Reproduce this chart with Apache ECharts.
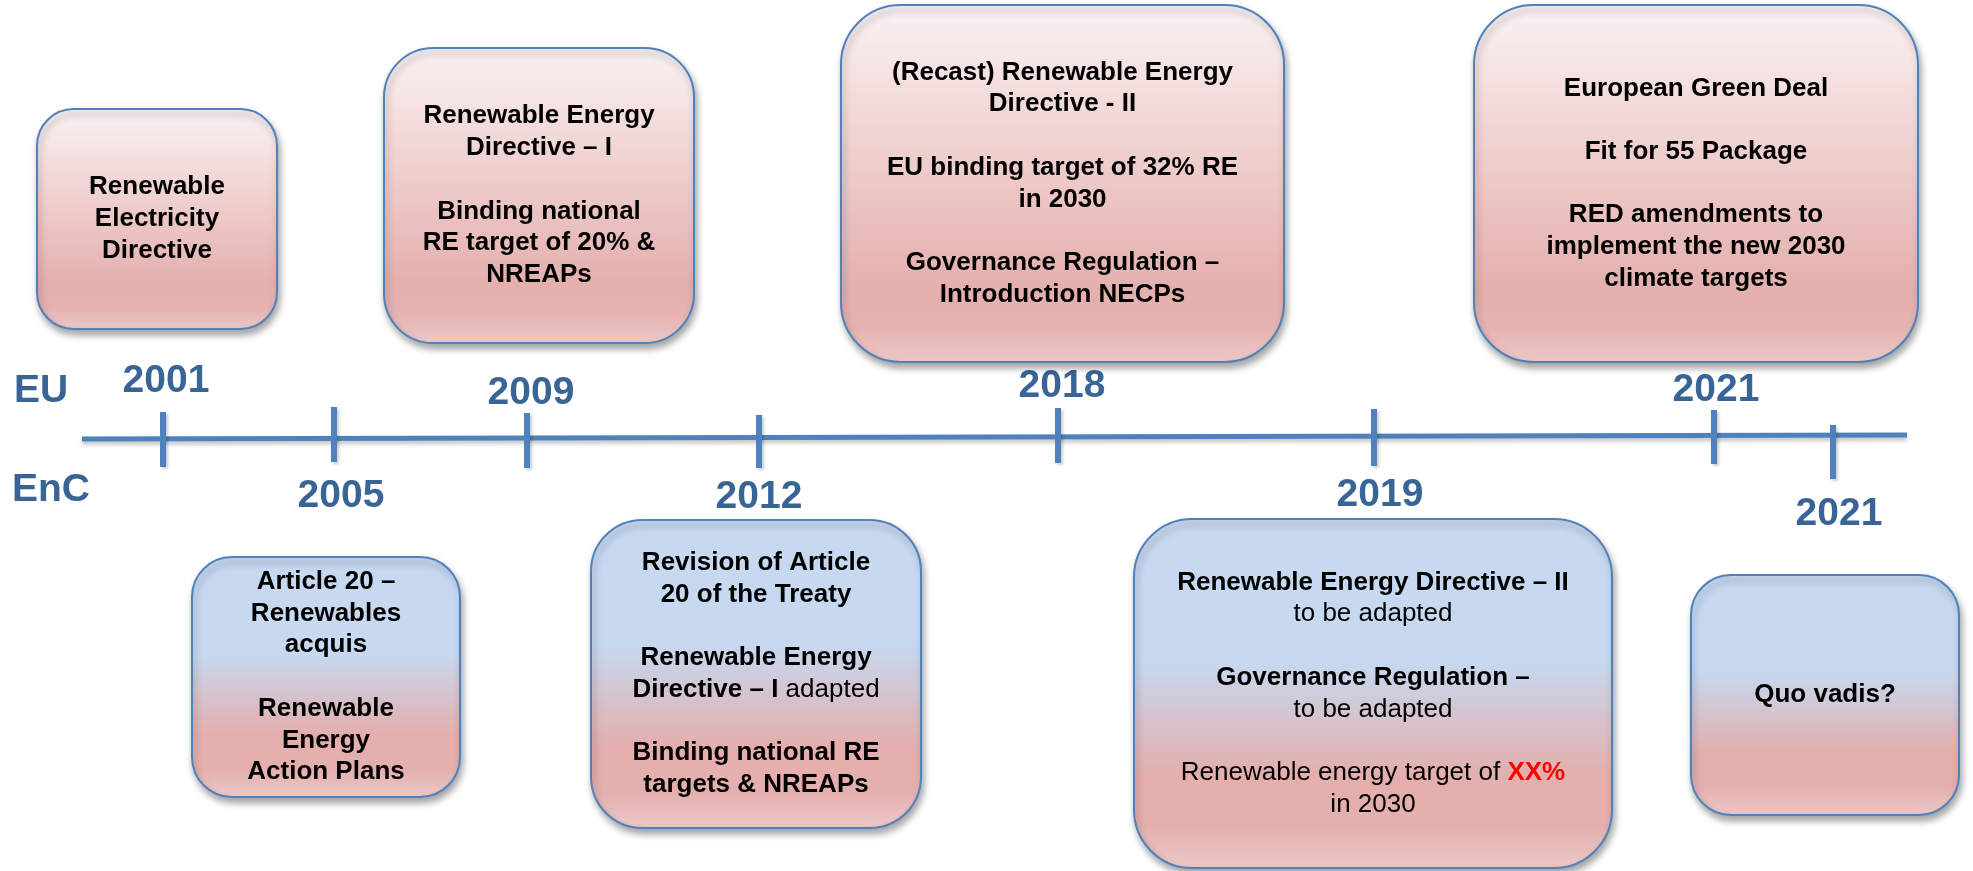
<!DOCTYPE html>
<html>
<head>
<meta charset="utf-8">
<script src="https://cdn.jsdelivr.net/npm/echarts/dist/echarts.min.js"></script>
<style>
  html, body { margin: 0; padding: 0; background: #fff; }
  #main { width: 1973px; height: 871px; }
</style>
</head>
<body>
<div id="main"></div>
<script>
// timeline milestones
const years = ['2001', '2005', '2009', '2012', '2018', '2019', '2021', '2021'];
const sides = ['EU', 'EnC', 'EU', 'EnC', 'EU', 'EnC', 'EU', 'EnC'];
const rowLabels = ['EU', 'EnC'];

// box texts ({b|} bold, {n|} normal, {r|} red)
const boxLines = [
  ['Renewable', 'Electricity', 'Directive'],
  ['Article 20 –', 'Renewables', 'acquis', '', 'Renewable', 'Energy', 'Action Plans'],
  ['Renewable Energy', 'Directive – I', '', 'Binding national', 'RE target of 20% &', 'NREAPs'],
  ['Revision of Article', '20 of the Treaty', '', 'Renewable Energy', '{b|Directive – I}{n| adapted}', '', 'Binding national RE', 'targets & NREAPs'],
  ['(Recast) Renewable Energy', 'Directive - II', '', 'EU binding target of 32% RE', 'in 2030', '', 'Governance Regulation –', 'Introduction NECPs'],
  ['Renewable Energy Directive – II', '{n|to be adapted}', '', 'Governance Regulation –', '{n|to be adapted}', '', '{n|Renewable energy target of }{r|XX%}', '{n|in 2030}'],
  ['European Green Deal', '', 'Fit for 55 Package', '', 'RED amendments to', 'implement the new 2030', 'climate targets'],
  ['Quo vadis?']
];

// layout (diagram coordinates)
const lineEnds = [[82, 439], [1907, 435]];
const tickX = [163, 334, 527, 759, 1058, 1374, 1714, 1833];
const tickSpan = [[412, 467], [407, 462], [413, 468], [415, 468], [408, 463], [409, 466], [410, 464], [425, 479]];
const yearPos = [[166, 381], [341, 496], [531, 393], [759, 497], [1062, 386], [1380, 495], [1716, 390], [1839, 514]];
const rowPos = [[14, 391], [12, 490]];
const boxRect = [
  [37, 109, 277, 329], [192, 557, 460, 797], [384, 48, 694, 343], [591, 520, 921, 828],
  [841, 5, 1284, 362], [1134, 519, 1612, 868], [1474, 5, 1918, 362], [1691, 575, 1959, 815]
];

const FONT = 'Arial, "Liberation Sans", sans-serif';
const BLUE = '#4f81bd';
const YEAR_COLOR = '#386496';
const LH = 31.7;

var chart = echarts.init(document.getElementById('main'), null, { renderer: 'canvas' });

function boxFill(side) {
  if (side == 'EU') {
    return new echarts.graphic.LinearGradient(0, 0, 0, 1, [
      { offset: 0, color: '#faf2f2' },
      { offset: 0.8, color: '#e4afad' },
      { offset: 0.9, color: '#e5b3b1' },
      { offset: 1, color: '#ecc8c7' }
    ]);
  }
  return new echarts.graphic.LinearGradient(0, 0, 0, 1, [
    { offset: 0, color: '#c6d9f1' },
    { offset: 0.4, color: '#c6d9f1' },
    { offset: 0.74, color: '#e4aeac' },
    { offset: 0.88, color: '#e4b0ae' },
    { offset: 1, color: '#ecc8c7' }
  ]);
}

function boxText(lines) {
  return lines.map(l => l.indexOf('{') === 0 ? l : (l === '' ? ' ' : '{b|' + l + '}')).join('\n');
}

var option = {
  animation: false,
  backgroundColor: '#fff',
  grid: { left: 0, right: 0, top: 0, bottom: 0 },
  xAxis: { type: 'value', min: 0, max: 1973, show: false },
  yAxis: { type: 'value', min: 0, max: 871, inverse: true, show: false },
  series: [
    // main timeline
    {
      type: 'line',
      data: lineEnds,
      symbol: 'none',
      silent: true,
      z: 1,
      lineStyle: {
        color: BLUE, width: 5,
        shadowColor: 'rgba(0,0,0,0.25)', shadowBlur: 4, shadowOffsetY: 3
      }
    },
    // ticks
    {
      type: 'custom',
      z: 2,
      silent: true,
      data: years.map((y, i) => [tickX[i], tickSpan[i][0], tickSpan[i][1]]),
      renderItem: function (params, api) {
        var p1 = api.coord([api.value(0), api.value(1)]);
        var p2 = api.coord([api.value(0), api.value(2)]);
        return {
          type: 'line',
          shape: { x1: p1[0], y1: p1[1], x2: p2[0], y2: p2[1] },
          style: {
            stroke: BLUE, lineWidth: 6,
            shadowColor: 'rgba(0,0,0,0.2)', shadowBlur: 3, shadowOffsetX: 2, shadowOffsetY: 2
          }
        };
      }
    },
    // year labels
    {
      type: 'custom',
      z: 3,
      silent: true,
      data: years.map((y, i) => [yearPos[i][0], yearPos[i][1]]),
      renderItem: function (params, api) {
        var p = api.coord([api.value(0), api.value(1)]);
        return {
          type: 'text',
          x: p[0], y: p[1],
          style: {
            text: years[params.dataIndex],
            fill: YEAR_COLOR,
            font: 'bold 39px ' + FONT,
            align: 'center', verticalAlign: 'middle'
          }
        };
      }
    },
    // row labels EU / EnC
    {
      type: 'custom',
      z: 3,
      silent: true,
      data: rowLabels.map((r, i) => [rowPos[i][0], rowPos[i][1]]),
      renderItem: function (params, api) {
        var p = api.coord([api.value(0), api.value(1)]);
        return {
          type: 'text',
          x: p[0], y: p[1],
          style: {
            text: rowLabels[params.dataIndex],
            fill: YEAR_COLOR,
            font: 'bold 39px ' + FONT,
            align: 'left', verticalAlign: 'middle'
          }
        };
      }
    },
    // boxes
    {
      type: 'custom',
      z: 4,
      silent: true,
      data: years.map((y, i) => boxRect[i]),
      renderItem: function (params, api) {
        var i = params.dataIndex;
        var a = api.coord([api.value(0), api.value(1)]);
        var b = api.coord([api.value(2), api.value(3)]);
        var w = b[0] - a[0], h = b[1] - a[1];
        var r = Math.min(w, h) * 0.1667;
        return {
          type: 'group',
          children: [
            {
              type: 'rect',
              shape: { x: a[0], y: a[1], width: w, height: h, r: r },
              style: {
                fill: boxFill(sides[i]),
                stroke: BLUE, lineWidth: 2,
                shadowColor: 'rgba(0,0,0,0.35)', shadowBlur: 7, shadowOffsetX: 2, shadowOffsetY: 5
              }
            },
            {
              type: 'text',
              x: a[0] + w / 2, y: a[1] + h / 2,
              style: {
                text: boxText(boxLines[i]),
                align: 'center', verticalAlign: 'middle',
                fontFamily: FONT, fontSize: 26, lineHeight: LH, fill: '#000',
                rich: {
                  b: { fontFamily: FONT, fontSize: 26, fontWeight: 'bold', lineHeight: LH, fill: '#000' },
                  n: { fontFamily: FONT, fontSize: 26, fontWeight: 'normal', lineHeight: LH, fill: '#000' },
                  r: { fontFamily: FONT, fontSize: 26, fontWeight: 'bold', lineHeight: LH, fill: '#ff0000' }
                }
              }
            }
          ]
        };
      }
    }
  ]
};

chart.setOption(option);
</script>
</body>
</html>
